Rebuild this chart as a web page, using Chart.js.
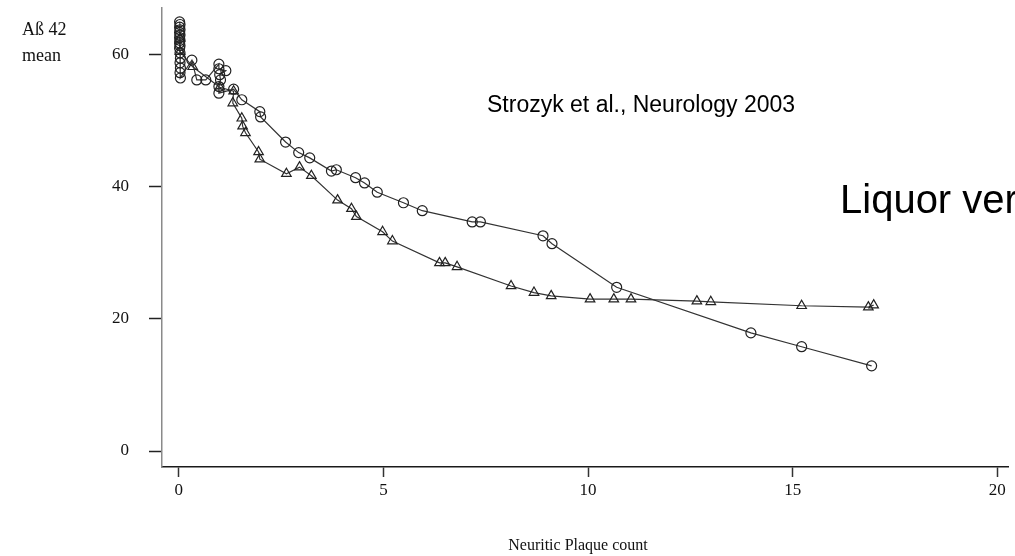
<!DOCTYPE html>
<html>
<head>
<meta charset="utf-8">
<script src="https://cdn.jsdelivr.net/npm/chart.js@4"></script>
<style>
    html, body { margin: 0; padding: 0; background: #fff; }
    #plaqueChart { display: block; }
</style>
</head>
<body>
<canvas id="plaqueChart" width="1015" height="556"></canvas>
<script>
// circle series (upper curve at mid range)
const circleX = [0.02, 0.03, 0.02, 0.03, 0.02, 0.03, 0.02, 0.03, 0.02, 0.03, 0.02, 0.03, 0.04, 0.03, 0.04, 0.03, 0.04,
    0.32, 0.44, 0.66, 0.98, 0.98, 1.15, 1.0, 1.02, 0.98, 0.98, 1.34, 1.54, 1.98, 2.0, 2.61, 2.93, 3.2, 3.73, 3.85,
    4.32, 4.54, 4.85, 5.49, 5.95, 7.17, 7.37, 8.9, 9.12, 10.7, 13.98, 15.22, 16.93];
const circleY = [65, 64.6, 64.2, 63.8, 63.4, 63, 62.6, 62.2, 61.8, 61.4, 61, 60.3, 59.5, 58.8, 58, 57.3, 56.5,
    59.2, 56.2, 56.2, 58.6, 57.9, 57.6, 57.0, 56.2, 55.2, 54.2, 54.8, 53.2, 51.4, 50.6, 46.8, 45.2, 44.4, 42.4, 42.6,
    41.4, 40.6, 39.2, 37.6, 36.4, 34.7, 34.7, 32.6, 31.4, 24.8, 17.9, 15.8, 12.9];

// triangle series (flattens out near 22)
const triangleX = [0.03, 0.03, 0.34, 1.0, 1.34, 1.32, 1.54, 1.56, 1.63, 1.95, 1.98, 2.63, 2.95, 3.24, 3.88, 4.22, 4.34,
    4.98, 5.22, 6.37, 6.51, 6.8, 8.12, 8.68, 9.1, 10.05, 10.63, 11.05, 12.66, 13.0, 15.22, 16.85, 16.98];
const triangleY = [62.5, 60.5, 58.2, 55.1, 54.5, 52.7, 50.4, 49.2, 48.2, 45.3, 44.2, 42.0, 43.0, 41.7, 38.0, 36.7, 35.5,
    33.2, 31.8, 28.5, 28.5, 27.9, 25.0, 24.0, 23.5, 23.0, 23.0, 23.0, 22.7, 22.6, 22.0, 21.8, 22.1];

const xTicks = [0, 5, 10, 15, 20];
const yTicks = [0, 20, 40, 60];

const SERIF = '"Liberation Serif", "Times New Roman", serif';
const SANS = '"Liberation Sans", Arial, sans-serif';

function toPoints(xs, ys) {
    return xs.map((x, i) => ({ x: x, y: ys[i] }));
}

// extra text: axis caption, citation and the cut-off heading
const textPlugin = {
    id: 'extraText',
    afterDraw(chart) {
        const c = chart.ctx;
        c.save();
        c.fillStyle = '#111';
        c.textBaseline = 'alphabetic';

        c.font = '18px ' + SERIF;
        c.textAlign = 'left';
        c.fillText('Aß 42', 22, 35);
        c.fillText('mean', 22, 61);

        c.font = '16px ' + SERIF;
        c.textAlign = 'center';
        c.fillText('Neuritic Plaque count', 578, 550);

        c.textAlign = 'left';
        c.fillStyle = '#000';
        c.font = '23px ' + SANS;
        c.fillText('Strozyk et al., Neurology 2003', 487, 112);

        c.font = '40px ' + SANS;
        c.fillText('Liquor ver', 840, 213);
        c.restore();
    }
};

const ctx = document.getElementById('plaqueChart').getContext('2d');
const plaqueChart = new Chart(ctx, {
    type: 'scatter',
    data: {
        datasets: [
            {
                label: 'circles',
                data: toPoints(circleX, circleY),
                showLine: true,
                borderColor: '#333',
                borderWidth: 1.2,
                pointStyle: 'circle',
                pointRadius: 5,
                pointBorderWidth: 1.2,
                pointBorderColor: '#222',
                pointBackgroundColor: 'rgba(0,0,0,0)'
            },
            {
                label: 'triangles',
                data: toPoints(triangleX, triangleY),
                showLine: true,
                borderColor: '#333',
                borderWidth: 1.2,
                pointStyle: 'triangle',
                pointRadius: 5.5,
                pointBorderWidth: 1.2,
                pointBorderColor: '#222',
                pointBackgroundColor: 'rgba(0,0,0,0)'
            }
        ]
    },
    options: {
        responsive: false,
        animation: false,
        layout: { padding: { top: 8, right: 5, left: 0, bottom: 0 } },
        plugins: {
            legend: { display: false },
            tooltip: { enabled: false }
        },
        scales: {
            x: {
                type: 'linear',
                min: -0.41,
                max: 20.27,
                afterFit(scale) {
                    scale.height = 89;
                    scale.paddingLeft = 0;
                    scale.paddingRight = 0;
                },
                afterBuildTicks(scale) { scale.ticks = xTicks.map(v => ({ value: v })); },
                border: { display: true, color: '#1a1a1a', width: 1.5 },
                grid: { drawOnChartArea: false, drawTicks: true, tickLength: 10, tickColor: '#333', tickWidth: 1.5 },
                ticks: { color: '#111', font: { family: SERIF, size: 17 }, padding: 3, maxRotation: 0 }
            },
            y: {
                type: 'linear',
                min: -2.42,
                max: 67.1,
                afterFit(scale) {
                    scale.width = 162;
                    scale.paddingTop = 0;
                    scale.paddingBottom = 0;
                },
                afterBuildTicks(scale) { scale.ticks = yTicks.map(v => ({ value: v })); },
                border: { display: true, color: '#8a8a8a', width: 1.5 },
                grid: { drawOnChartArea: false, drawTicks: true, tickLength: 13, tickColor: '#222', tickWidth: 1.5 },
                ticks: { color: '#111', font: { family: SERIF, size: 17 }, padding: 20 }
            }
        }
    },
    plugins: [textPlugin]
});
</script>
</body>
</html>
